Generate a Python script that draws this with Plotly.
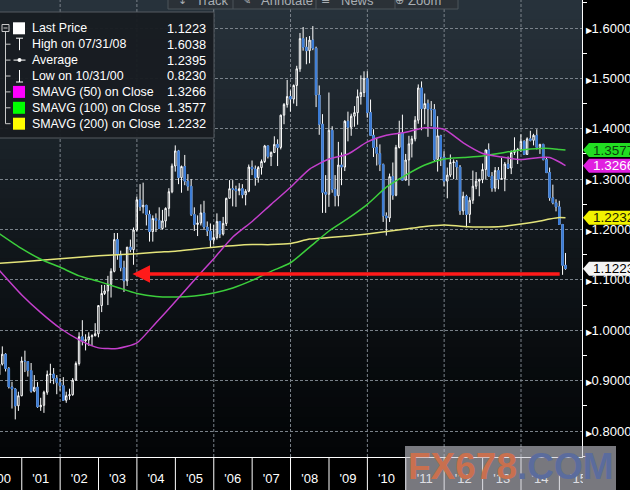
import plotly.graph_objects as go
import pandas as pd

# ---------------- data (monthly EUR/USD candles) ----------------
first_month = "2000-05"
last_month = "2015-02"

opens = [0.9115, 0.9328, 0.9525, 0.9240, 0.8875, 0.8835, 0.8500, 0.8700,
         0.9390, 0.9380, 0.9200, 0.8790, 0.8870, 0.8480, 0.8510, 0.8770, 0.9120, 0.9130, 0.9050, 0.8960,
         0.8900, 0.8610, 0.8700, 0.8720, 0.9010, 0.9340, 0.9870, 0.9790, 0.9810, 0.9870, 0.9890, 0.9930,
         1.0490, 1.0730, 1.0780, 1.0910, 1.1170, 1.1800, 1.1500, 1.1240, 1.0980, 1.1650, 1.1600, 1.1990,
         1.2590, 1.2450, 1.2480, 1.2300, 1.1960, 1.2220, 1.2180, 1.2020, 1.2170, 1.2420, 1.2750, 1.3260,
         1.3560, 1.3030, 1.3250, 1.2960, 1.2860, 1.2300, 1.2100, 1.2130, 1.2330, 1.2050, 1.1970, 1.1790,
         1.1840, 1.2160, 1.1910, 1.2120, 1.2620, 1.2810, 1.2800, 1.2770, 1.2810, 1.2690, 1.2760, 1.3240,
         1.3200, 1.3030, 1.3230, 1.3350, 1.3660, 1.3450, 1.3530, 1.3690, 1.3630, 1.4270, 1.4480, 1.4640,
         1.4590, 1.4860, 1.5190, 1.5790, 1.5620, 1.5550, 1.5760, 1.5600, 1.4670, 1.4090, 1.2740, 1.2700,
         1.3970, 1.2800, 1.2670, 1.3280, 1.3240, 1.4150, 1.4030, 1.4250, 1.4320, 1.4640, 1.4720, 1.5000,
         1.4320, 1.3870, 1.3630, 1.3510, 1.3290, 1.2270, 1.2230, 1.3050, 1.2680, 1.3630, 1.3920, 1.2980,
         1.3380, 1.3700, 1.3800, 1.4170, 1.4810, 1.4400, 1.4500, 1.4390, 1.4380, 1.3390, 1.3860, 1.3440,
         1.2960, 1.3080, 1.3330, 1.3340, 1.3240, 1.2370, 1.2660, 1.2300, 1.2580, 1.2860, 1.2960, 1.2990,
         1.3190, 1.3580, 1.3060, 1.2820, 1.3170, 1.3000, 1.3010, 1.3300, 1.3220, 1.3530, 1.3580, 1.3590,
         1.3750, 1.3490, 1.3800, 1.3770, 1.3870, 1.3630, 1.3690, 1.3390, 1.3130, 1.2630, 1.2530, 1.2450,
         1.2100, 1.1290]
highs = [0.9410, 0.9680, 0.9545, 0.9270, 0.8976, 0.8850, 0.8780, 0.9475,
         0.9595, 0.9390, 0.9350, 0.9110, 0.8970, 0.8660, 0.8800, 0.9200, 0.9335, 0.9250, 0.9110, 0.9050,
         0.9070, 0.8780, 0.8840, 0.9050, 0.9380, 0.9960, 1.0200, 0.9920, 0.9960, 0.9920, 1.0140, 1.0500,
         1.0900, 1.0900, 1.1080, 1.1230, 1.1930, 1.1930, 1.1580, 1.1380, 1.1650, 1.1800, 1.2040, 1.2650,
         1.2900, 1.2930, 1.2490, 1.2380, 1.2280, 1.2320, 1.2440, 1.2390, 1.2440, 1.2820, 1.3310, 1.3670,
         1.3580, 1.3270, 1.3480, 1.3100, 1.3000, 1.2440, 1.2280, 1.2500, 1.2570, 1.2160, 1.2120, 1.2090,
         1.2320, 1.2160, 1.2250, 1.2630, 1.2980, 1.2980, 1.2870, 1.2920, 1.2900, 1.2800, 1.3290, 1.3370,
         1.3270, 1.3260, 1.3390, 1.3680, 1.3660, 1.3550, 1.3850, 1.3790, 1.4280, 1.4510, 1.4970, 1.4760,
         1.4880, 1.5250, 1.5900, 1.6020, 1.5820, 1.5840, 1.6038, 1.5630, 1.4860, 1.4290, 1.3080, 1.4720,
         1.4050, 1.3080, 1.3740, 1.3530, 1.4170, 1.4340, 1.4300, 1.4450, 1.4780, 1.5060, 1.5140, 1.5140,
         1.4580, 1.3990, 1.3820, 1.3690, 1.3310, 1.2340, 1.3110, 1.3330, 1.3680, 1.4160, 1.4280, 1.3500,
         1.3860, 1.3860, 1.4250, 1.4880, 1.4940, 1.4700, 1.4580, 1.4550, 1.4490, 1.4250, 1.3880, 1.3550,
         1.3230, 1.3490, 1.3390, 1.3380, 1.3280, 1.2750, 1.2690, 1.2640, 1.3170, 1.3140, 1.3010, 1.3310,
         1.3590, 1.3710, 1.3140, 1.3240, 1.3240, 1.3420, 1.3340, 1.3450, 1.3570, 1.3830, 1.3620, 1.3890,
         1.3770, 1.3830, 1.3960, 1.3900, 1.3990, 1.3700, 1.3700, 1.3440, 1.3230, 1.2890, 1.2600, 1.2570,
         1.2110, 1.1534]
lows = [0.8845, 0.9300, 0.9182, 0.8844, 0.8446, 0.8230, 0.8400, 0.8690,
        0.9170, 0.9080, 0.8760, 0.8770, 0.8460, 0.8400, 0.8360, 0.8720, 0.8950, 0.8930, 0.8730, 0.8800,
        0.8600, 0.8560, 0.8620, 0.8700, 0.9000, 0.9300, 0.9700, 0.9600, 0.9690, 0.9690, 0.9880, 0.9860,
        1.0360, 1.0700, 1.0500, 1.0650, 1.1150, 1.1400, 1.1170, 1.0760, 1.0880, 1.1550, 1.1300, 1.1960,
        1.2370, 1.2320, 1.2080, 1.1760, 1.1760, 1.1950, 1.2010, 1.2000, 1.2040, 1.2260, 1.2720, 1.3150,
        1.2900, 1.2730, 1.2880, 1.2770, 1.2270, 1.1970, 1.1870, 1.2080, 1.1990, 1.1870, 1.1640, 1.1710,
        1.1800, 1.1830, 1.1880, 1.2070, 1.2620, 1.2460, 1.2450, 1.2680, 1.2620, 1.2480, 1.2740, 1.3080,
        1.2870, 1.2930, 1.3090, 1.3320, 1.3410, 1.3260, 1.3520, 1.3260, 1.3590, 1.4090, 1.4420, 1.4340,
        1.4500, 1.4450, 1.5130, 1.5550, 1.5280, 1.5300, 1.5560, 1.4430, 1.3880, 1.2330, 1.2330, 1.2450,
        1.2730, 1.2460, 1.2460, 1.2880, 1.3160, 1.3750, 1.3860, 1.4040, 1.4080, 1.4480, 1.4630, 1.4220,
        1.3860, 1.3440, 1.3270, 1.3160, 1.2150, 1.1880, 1.2150, 1.2590, 1.2660, 1.3610, 1.2970, 1.2970,
        1.2870, 1.3430, 1.3750, 1.4100, 1.3970, 1.4090, 1.3840, 1.4050, 1.3360, 1.3150, 1.3260, 1.2860,
        1.2620, 1.3040, 1.3000, 1.3000, 1.2290, 1.2290, 1.2040, 1.2130, 1.2510, 1.2800, 1.2660, 1.2920,
        1.3000, 1.3050, 1.2750, 1.2750, 1.2800, 1.2990, 1.2760, 1.3200, 1.3100, 1.3480, 1.3300, 1.3540,
        1.3480, 1.3480, 1.3750, 1.3670, 1.3590, 1.3500, 1.3370, 1.3130, 1.2570, 1.2500, 1.2360, 1.2100,
        1.1100, 1.1200]
closes = [0.9328, 0.9525, 0.9240, 0.8875, 0.8835, 0.8500, 0.8700, 0.9390,
          0.9380, 0.9200, 0.8790, 0.8870, 0.8480, 0.8510, 0.8770, 0.9120, 0.9130, 0.9050, 0.8960, 0.8900,
          0.8610, 0.8700, 0.8720, 0.9010, 0.9340, 0.9870, 0.9790, 0.9810, 0.9870, 0.9890, 0.9930, 1.0490,
          1.0730, 1.0780, 1.0910, 1.1170, 1.1800, 1.1500, 1.1240, 1.0980, 1.1650, 1.1600, 1.1990, 1.2590,
          1.2450, 1.2480, 1.2300, 1.1960, 1.2220, 1.2180, 1.2020, 1.2170, 1.2420, 1.2750, 1.3260, 1.3560,
          1.3030, 1.3250, 1.2960, 1.2860, 1.2300, 1.2100, 1.2130, 1.2330, 1.2050, 1.1970, 1.1790, 1.1840,
          1.2160, 1.1910, 1.2120, 1.2620, 1.2810, 1.2800, 1.2770, 1.2810, 1.2690, 1.2760, 1.3240, 1.3200,
          1.3030, 1.3230, 1.3350, 1.3660, 1.3450, 1.3530, 1.3690, 1.3630, 1.4270, 1.4480, 1.4640, 1.4590,
          1.4860, 1.5190, 1.5790, 1.5620, 1.5550, 1.5760, 1.5600, 1.4670, 1.4090, 1.2740, 1.2700, 1.3970,
          1.2800, 1.2670, 1.3280, 1.3240, 1.4150, 1.4030, 1.4250, 1.4320, 1.4640, 1.4720, 1.5000, 1.4320,
          1.3870, 1.3630, 1.3510, 1.3290, 1.2270, 1.2230, 1.3050, 1.2680, 1.3630, 1.3920, 1.2980, 1.3380,
          1.3700, 1.3800, 1.4170, 1.4810, 1.4400, 1.4500, 1.4390, 1.4380, 1.3390, 1.3860, 1.3440, 1.2960,
          1.3080, 1.3330, 1.3340, 1.3240, 1.2370, 1.2660, 1.2300, 1.2580, 1.2860, 1.2960, 1.2990, 1.3190,
          1.3580, 1.3060, 1.2820, 1.3170, 1.3000, 1.3010, 1.3300, 1.3220, 1.3530, 1.3580, 1.3590, 1.3750,
          1.3490, 1.3800, 1.3770, 1.3870, 1.3630, 1.3690, 1.3390, 1.3130, 1.2630, 1.2530, 1.2450, 1.2100,
          1.1290, 1.1223]

# moving averages
ma_dates = ["2000-06-01", "2001-01-01", "2001-07-01", "2002-01-01", "2002-07-01", "2003-01-01",
            "2003-07-01", "2004-01-01", "2004-07-01", "2005-01-01", "2005-07-01", "2006-01-01",
            "2006-07-01", "2007-01-01", "2007-07-01", "2008-01-01", "2008-07-01", "2009-01-01",
            "2009-07-01", "2010-01-01", "2010-07-01", "2011-01-01", "2011-07-01", "2012-01-01",
            "2012-07-01", "2013-01-01", "2013-07-01", "2014-01-01", "2014-07-01", "2014-10-01",
            "2015-01-01", "2015-02-28"]
sma50 = [1.119, 1.070, 1.035, 1.004, 0.981, 0.965, 0.964, 0.975, 1.015, 1.057, 1.100, 1.142,
         1.185, 1.216, 1.250, 1.284, 1.320, 1.340, 1.350, 1.374, 1.387, 1.393, 1.402, 1.399,
         1.372, 1.351, 1.344, 1.339, 1.343, 1.343, 1.334, 1.3266]
sma100 = [1.192, 1.162, 1.141, 1.125, 1.108, 1.097, 1.085, 1.073, 1.067, 1.066, 1.068, 1.074,
          1.084, 1.099, 1.117, 1.134, 1.165, 1.197, 1.222, 1.250, 1.284, 1.308, 1.328, 1.340,
          1.343, 1.346, 1.352, 1.358, 1.361, 1.361, 1.359, 1.3577]
sma200 = [1.133, 1.136, 1.139, 1.142, 1.145, 1.148, 1.150, 1.152, 1.155, 1.157, 1.161, 1.165,
          1.168, 1.170, 1.170, 1.172, 1.181, 1.184, 1.187, 1.191, 1.196, 1.201, 1.206, 1.209,
          1.206, 1.205, 1.206, 1.211, 1.217, 1.221, 1.224, 1.2232]

legend_labels = ["Last Price", "High on 07/31/08", "Average", "Low on 10/31/00",
                 "SMAVG (50) on Close", "SMAVG (100) on Close", "SMAVG (200) on Close"]
legend_values = ["1.1223", "1.6038", "1.2395", "0.8230", "1.3266", "1.3577", "1.2232"]

y_tickvals = [0.8, 0.9, 1.0, 1.1, 1.2, 1.3, 1.4, 1.5, 1.6]
y_ticktext = ["0.8000", "0.9000", "1.0000", "1.1000", "1.2000", "1.3000", "1.4000", "1.5000", "1.6000"]
y_minorvals = [0.75, 0.85, 0.95, 1.05, 1.15, 1.25, 1.35, 1.45, 1.55, 1.65]
years = list(range(2000, 2016))
year_labels = ["'00", "'01", "'02", "'03", "'04", "'05", "'06", "'07", "'08", "'09",
               "'10", "'11", "'12", "'13", "'14", "'15"]

arrow_level = 1.1115
arrow_head_date = "2003-11-20"
arrow_tail_date = "2015-01-18"

toolbar_labels = ["Track", "Annotate", "News", "Zoom"]

# ---------------- figure ----------------
dates = pd.period_range(first_month, last_month, freq="M").to_timestamp(how="end").normalize()

W, H = 630, 490
PW, PH = 582, 457          # plot area in pixels


def px(x):
    return x / PW


def py(y):
    return 1 - y / PH


BLUE = "#3a7bd5"
MAG = "#c43fcc"
GRN = "#3ccf3c"
YEL = "#e4e47a"
GRID = "#7a828a"

fig = go.Figure()

fig.add_trace(go.Candlestick(
    x=dates, open=opens, high=highs, low=lows, close=closes,
    increasing=dict(line=dict(color="white", width=1), fillcolor="rgba(0,0,0,0)"),
    decreasing=dict(line=dict(color="white", width=1), fillcolor=BLUE),
    whiskerwidth=0, showlegend=False, hoverinfo="skip"))

# blue bodies of the down candles (body only, drawn over the white outline)
dn = [i for i in range(len(opens)) if closes[i] < opens[i]]
fig.add_trace(go.Candlestick(
    x=[dates[i] for i in dn], open=[opens[i] for i in dn], close=[closes[i] for i in dn],
    high=[opens[i] for i in dn], low=[closes[i] for i in dn],
    increasing=dict(line=dict(color=BLUE, width=1), fillcolor=BLUE),
    decreasing=dict(line=dict(color=BLUE, width=1), fillcolor=BLUE),
    whiskerwidth=0, showlegend=False, hoverinfo="skip"))

for vals, col in [(sma200, YEL), (sma100, GRN), (sma50, MAG)]:
    fig.add_trace(go.Scatter(x=ma_dates, y=vals, mode="lines",
                             line=dict(color=col, width=1.5, shape="spline", smoothing=0.6),
                             showlegend=False, hoverinfo="skip"))

shapes = []
# background gradient
N = 46
top = (40, 51, 60)
bot = (3, 5, 7)
for i in range(N):
    t = (i + 0.5) / N
    f = t ** 1.25
    c = tuple(int(round(bot[k] + (top[k] - bot[k]) * f)) for k in range(3))
    shapes.append(dict(type="rect", xref="paper", yref="paper", x0=0, x1=1,
                       y0=i / N, y1=(i + 1) / N + 0.002, fillcolor="rgb(%d,%d,%d)" % c,
                       line=dict(width=0), layer="below"))
# vertical dashed grid every two years
for yr in years[2::2]:
    shapes.append(dict(type="line", xref="x", yref="paper", x0="%d-01-01" % yr, x1="%d-01-01" % yr,
                       y0=0, y1=1, line=dict(color=GRID, width=1, dash="3px,2px"), layer="below"))
# year separators below the axis
for yr in years[1:]:
    shapes.append(dict(type="line", xref="x", yref="paper", x0="%d-01-01" % yr, x1="%d-01-01" % yr,
                       y0=0, y1=-0.1, line=dict(color="white", width=1)))

# toolbar strip at the top
shapes.append(dict(type="rect", xref="paper", yref="paper", x0=px(168), x1=px(458), y0=py(9), y1=py(-6),
                   fillcolor="#2b3137", line=dict(color="#4d545b", width=1), layer="above"))
for xd in [233, 316, 395]:
    shapes.append(dict(type="line", xref="paper", yref="paper", x0=px(xd), x1=px(xd), y0=py(9), y1=py(-6),
                       line=dict(color="#4d545b", width=1), layer="above"))

# legend box
shapes.append(dict(type="rect", xref="paper", yref="paper", x0=px(-2), x1=px(214), y0=py(138), y1=py(12),
                   fillcolor="rgba(24,28,33,0.96)", line=dict(color="#555b61", width=1), layer="above"))
row_y = [28.3, 44.2, 60.1, 76.0, 91.9, 107.8, 123.7]
TREE = "#c9c9c9"
shapes.append(dict(type="rect", xref="paper", yref="paper", x0=px(2), x1=px(9), y0=py(31.5), y1=py(24.5),
                   line=dict(color=TREE, width=1), layer="above"))
shapes.append(dict(type="line", xref="paper", yref="paper", x0=px(3.5), x1=px(7.5), y0=py(28), y1=py(28),
                   line=dict(color=TREE, width=1), layer="above"))
shapes.append(dict(type="line", xref="paper", yref="paper", x0=px(5.5), x1=px(5.5), y0=py(31.5), y1=py(row_y[-1]),
                   line=dict(color=TREE, width=1), layer="above"))
for ry in row_y[1:]:
    shapes.append(dict(type="line", xref="paper", yref="paper", x0=px(5.5), x1=px(10.5), y0=py(ry), y1=py(ry),
                       line=dict(color=TREE, width=1), layer="above"))
sq_cols = ["#ffffff", None, None, None, "#ff00ff", "#00ff00", "#ffff00"]
for ry, col in zip(row_y, sq_cols):
    if col:
        shapes.append(dict(type="rect", xref="paper", yref="paper", x0=px(13), x1=px(25),
                           y0=py(ry + 6), y1=py(ry - 6), fillcolor=col, line=dict(width=0), layer="above"))
# High / Average / Low glyphs
r1, r2, r3 = row_y[1], row_y[2], row_y[3]
for seg in [((19.5, r1 - 6), (19.5, r1 + 6)), ((16, r1 - 6), (23, r1 - 6)),
            ((13.5, r2), (25.5, r2)),
            ((19.5, r3 - 6), (19.5, r3 + 6)), ((16, r3 + 6), (23, r3 + 6))]:
    (xa, ya), (xb, yb) = seg
    shapes.append(dict(type="line", xref="paper", yref="paper", x0=px(xa), x1=px(xb), y0=py(ya), y1=py(yb),
                       line=dict(color="white", width=1), layer="above"))
shapes.append(dict(type="circle", xref="paper", yref="paper", x0=px(17.5), x1=px(21.5), y0=py(r2 + 2), y1=py(r2 - 2),
                   fillcolor="white", line=dict(width=0), layer="above"))

# value tags at the right axis
tags = [(float(legend_values[5]), "#22dd22", "#0b3d0b"),
        (float(legend_values[4]), "#e020e0", "#ffffff"),
        (float(legend_values[6]), "#f2f200", "#202000"),
        (float(legend_values[0]), "#f4f4f4", "#000000")]
for val, bg, fg in tags:
    shapes.append(dict(type="path", xref="paper", yref="y", xsizemode="pixel", ysizemode="pixel",
                       xanchor=1, yanchor=val, path="M 1 0 L 7 7 L 60 7 L 60 -7 L 7 -7 Z",
                       fillcolor=bg, line=dict(width=0), layer="above"))

# cover the part of the '15 label that runs under the axis column
shapes.append(dict(type="rect", xref="paper", yref="paper", x0=px(583), x1=px(640), y0=py(500), y1=py(458),
                   fillcolor="black", line=dict(width=0), layer="above"))
# watermark box
shapes.append(dict(type="rect", xref="paper", yref="paper", x0=px(405), x1=px(616), y0=py(496), y1=py(446),
                   fillcolor="rgba(200,200,210,0.6)", line=dict(width=0), layer="above"))

annotations = []
FONT = "Liberation Sans, Arial, sans-serif"
for ry, lab, val in zip(row_y, legend_labels, legend_values):
    annotations.append(dict(xref="paper", yref="paper", x=px(29.5), y=py(ry), xanchor="left", yanchor="middle",
                            text=lab, showarrow=False, font=dict(family=FONT, size=12.4, color="white")))
    annotations.append(dict(xref="paper", yref="paper", x=px(208), y=py(ry), xanchor="right", yanchor="middle",
                            text=val, showarrow=False, font=dict(family=FONT, size=12.8, color="white")))
for val, bg, fg in tags:
    annotations.append(dict(xref="paper", yref="y", x=px(591), y=val, xanchor="left", yanchor="middle",
                            text="%.4f" % val, showarrow=False, font=dict(family=FONT, size=13.5, color=fg)))
tb_x = [212, 287, 357, 424]
for lab, xc in zip(toolbar_labels, tb_x):
    annotations.append(dict(xref="paper", yref="paper", x=px(xc), y=py(0.5), xanchor="center", yanchor="middle",
                            text=lab, showarrow=False, font=dict(family=FONT, size=13, color="#a9aeb3")))
for gl, xc in zip(["↓", "✎", "≡", "⊕"], [182, 246, 325, 399]):
    annotations.append(dict(xref="paper", yref="paper", x=px(xc), y=py(0.5), xanchor="center", yanchor="middle",
                            text=gl, showarrow=False, font=dict(family="DejaVu Sans", size=11, color="#a9aeb3")))
# red arrow
annotations.append(dict(xref="x", yref="y", x=arrow_head_date, y=arrow_level,
                        axref="x", ayref="y", ax=arrow_tail_date, ay=arrow_level, text="",
                        showarrow=True, arrowhead=2, arrowsize=1, arrowwidth=3.5, arrowcolor="#ff1a1a", standoff=0))
# watermark text
annotations.append(dict(xref="paper", yref="paper", x=px(511), y=py(467), xanchor="center", yanchor="middle",
                        text="<b><span style='color:#c9704f'>FX678</span><span style='color:#5b6c9d'>.COM</span></b>",
                        showarrow=False, font=dict(family=FONT, size=37)))

fig.update_layout(
    width=W, height=H, autosize=False, template="none",
    margin=dict(l=0, r=W - PW, t=0, b=H - PH, pad=0),
    paper_bgcolor="black", plot_bgcolor="rgba(0,0,0,0)",
    showlegend=False, hovermode=False,
    shapes=shapes, annotations=annotations,
    xaxis=dict(type="date", range=["2000-06-08", "2015-08-04"], rangeslider=dict(visible=False),
               tickmode="array", tickvals=["%d-07-01" % y for y in years], ticktext=year_labels,
               ticks="", showgrid=False, zeroline=False, showline=True, linecolor="white", linewidth=1,
               tickfont=dict(family=FONT, size=13, color="white"), ticklabelstandoff=9,
               ticklabeloverflow="allow", automargin=False),
    yaxis=dict(side="right", range=[0.7484, 1.6556], tickmode="array", tickvals=y_tickvals,
               ticktext=["<span style='font-size:8px'>▶</span>" + t for t in y_ticktext],
               ticks="", showgrid=True, gridcolor=GRID, griddash="3px,2px", gridwidth=1,
               zeroline=False, showline=True, linecolor="white", linewidth=1,
               tickfont=dict(family=FONT, size=13, color="white"), ticklabelstandoff=0,
               ticklabeloverflow="allow", automargin=False,
               minor=dict(tickmode="array", tickvals=y_minorvals, ticks="outside", ticklen=4,
                          tickcolor="white", tickwidth=1, showgrid=False)),
)

fig.write_html("out.html", config={"displayModeBar": False, "staticPlot": True},
               post_script="document.body.style.margin='0';document.body.style.overflow='hidden';")
